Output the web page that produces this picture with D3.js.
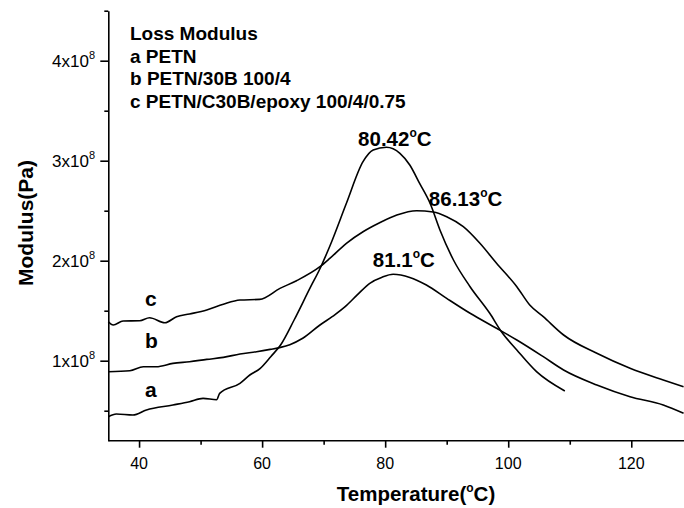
<!DOCTYPE html>
<html>
<head>
<meta charset="utf-8">
<script src="https://cdn.jsdelivr.net/npm/d3@7"></script>
<style>
  body { margin: 0; background: #fff; }
  svg { display: block; font-family: "Liberation Sans", Arial, sans-serif; }
  .axis path, .axis line { stroke: #000; stroke-width: 1.6; }
  .curve { fill: none; stroke: #000; stroke-width: 1.6; }
</style>
</head>
<body>
<div id="chart"></div>
<script>
"use strict";

// Loss modulus vs temperature, values in units of 1x10^8 Pa

// a PETN
let tempA = [35, 36.3, 39, 41.2, 45.5, 48.2, 50.4, 52.6, 53.1, 56.4, 58, 59.7, 61.4, 63, 65.2, 67.9, 69.3, 71.3, 73.7, 76.4, 78.05, 80.2, 82.4, 84, 85.6, 87.3, 88.9, 91.1, 93.8, 97, 98.9, 101.4, 104.6, 109.2];
let modA  = [0.44, 0.467, 0.457, 0.507, 0.557, 0.59, 0.623, 0.61, 0.673, 0.774, 0.857, 0.924, 1.04, 1.157, 1.407, 1.74, 1.907, 2.19, 2.574, 2.99, 3.107, 3.134, 3.074, 2.957, 2.773, 2.574, 2.307, 2.007, 1.74, 1.474, 1.29, 1.107, 0.89, 0.697];

// b PETN/30B 100/4
let tempB = [35, 38.5, 40.7, 42.8, 45.5, 48.2, 51, 53.7, 56.4, 59.1, 61.3, 63, 64.5, 66.6, 69.4, 71.5, 73.5, 75.5, 77.5, 79.5, 81.3, 84, 86.7, 90, 93.8, 98.1, 101.4, 105.7, 109, 114.4, 119.8, 125.2, 128.5];
let modB  = [0.89, 0.90, 0.94, 0.94, 0.973, 0.99, 1.013, 1.033, 1.067, 1.09, 1.113, 1.133, 1.16, 1.224, 1.357, 1.445, 1.54, 1.66, 1.774, 1.835, 1.864, 1.833, 1.757, 1.623, 1.474, 1.324, 1.207, 1.04, 0.907, 0.757, 0.64, 0.557, 0.474];

// c PETN/C30B/epoxy 100/4/0.75
let tempC = [35, 35.8, 37.4, 40.1, 41.7, 44.2, 46.1, 48.2, 51, 53.7, 56.4, 59.6, 62.9, 65.6, 69.4, 71, 73.7, 76.4, 79.1, 81.9, 85.1, 87.8, 90, 92.7, 95.4, 98.1, 101.4, 103.5, 105.7, 109, 114.4, 119.8, 125.2, 128.5];
let modC  = [1.39, 1.357, 1.397, 1.40, 1.43, 1.38, 1.44, 1.467, 1.507, 1.565, 1.607, 1.613, 1.723, 1.8, 1.94, 2.023, 2.174, 2.29, 2.38, 2.457, 2.50, 2.487, 2.44, 2.34, 2.174, 1.974, 1.74, 1.557, 1.44, 1.257, 1.074, 0.924, 0.807, 0.74];

let xMajor = [40, 60, 80, 100, 120];
let xMinor = [50, 70, 90, 110];
let yMajor = [1, 2, 3, 4];
let yMinor = [0.5, 1.5, 2.5, 3.5, 4.5];

let legendLines = ["Loss Modulus", "a PETN", "b PETN/30B 100/4", "c PETN/C30B/epoxy 100/4/0.75"];
let curveNames = ["a", "b", "c"];
let curveLabelVals = [0.64, 1.127, 1.547];   // baselines of the a/b/c tags, in data units
let peakLabels = [
  {text: "80.42", t: 75.6, v: 3.147},
  {text: "86.13", t: 87.1, v: 2.547},
  {text: "81.1",  t: 78.0, v: 1.94}
];

let width = 684, height = 508;

let svg = d3.select("#chart").append("svg")
  .attr("width", width)
  .attr("height", height);

// scales
let x = d3.scaleLinear().domain([35, 130]).range([108.3, 692.8]);
let y = d3.scaleLinear().domain([0.2, 4.5]).range([440.7, 10.7]);

// x axis (major + minor)
svg.append("g")
  .attr("class", "axis")
  .attr("transform", `translate(0,${y(0.2)})`)
  .call(d3.axisBottom(x).tickValues(xMajor).tickSize(7).tickSizeOuter(0).tickFormat(""))
  .call(g => g.select(".domain").attr("d", `M${x(35)},0H${width}`));

svg.append("g")
  .attr("class", "axis")
  .attr("transform", `translate(0,${y(0.2)})`)
  .call(d3.axisBottom(x).tickValues(xMinor).tickSize(4).tickSizeOuter(0).tickFormat(""))
  .call(g => g.select(".domain").remove());

svg.append("g").selectAll("text")
  .data(xMajor)
  .join("text")
  .attr("x", d => x(d))
  .attr("y", 469)
  .attr("text-anchor", "middle")
  .attr("font-size", 16)
  .text(d => d);

// y axis (major + minor)
svg.append("g")
  .attr("class", "axis")
  .attr("transform", `translate(${x(35)},0)`)
  .call(d3.axisLeft(y).tickValues(yMajor).tickSize(8).tickSizeOuter(0).tickFormat(""));

svg.append("g")
  .attr("class", "axis")
  .attr("transform", `translate(${x(35)},0)`)
  .call(d3.axisLeft(y).tickValues(yMinor).tickSize(4).tickSizeOuter(0).tickFormat(""))
  .call(g => g.select(".domain").remove());

let yLab = svg.append("g").selectAll("text")
  .data(yMajor)
  .join("text")
  .attr("x", 95)
  .attr("y", d => y(d) + 6)
  .attr("text-anchor", "end")
  .attr("font-size", 17);
yLab.append("tspan").text(d => d + "x10");
yLab.append("tspan").attr("font-size", 11).attr("dy", -8).text("8");

// axis titles
let xTitle = svg.append("text")
  .attr("x", 416)
  .attr("y", 501)
  .attr("text-anchor", "middle")
  .attr("font-size", 20.5)
  .attr("font-weight", "bold");
xTitle.append("tspan").text("Temperature(");
xTitle.append("tspan").attr("font-size", 12).attr("dy", -9).text("o");
xTitle.append("tspan").attr("dy", 9).text("C)");

svg.append("text")
  .attr("transform", "translate(33,223)rotate(-90)")
  .attr("text-anchor", "middle")
  .attr("font-size", 21)
  .attr("font-weight", "bold")
  .text("Modulus(Pa)");

// curves
let line = d3.line()
  .curve(d3.curveMonotoneX)
  .x(d => x(d[0]))
  .y(d => y(d[1]));

let series = [
  d3.zip(tempA, modA),
  d3.zip(tempB, modB),
  d3.zip(tempC, modC)
];

svg.append("g").selectAll("path")
  .data(series)
  .join("path")
  .attr("class", "curve")
  .attr("d", line);

// a / b / c tags
svg.append("g").selectAll("text")
  .data(curveNames)
  .join("text")
  .attr("x", 145)
  .attr("y", (d, i) => y(curveLabelVals[i]))
  .attr("font-size", 21)
  .attr("font-weight", "bold")
  .text(d => d);

// peak temperature labels
let pk = svg.append("g").selectAll("text")
  .data(peakLabels)
  .join("text")
  .attr("x", d => x(d.t))
  .attr("y", d => y(d.v))
  .attr("font-size", 20.5)
  .attr("font-weight", "bold");
pk.append("tspan").text(d => d.text);
pk.append("tspan").attr("font-size", 12).attr("dy", -9).text("o");
pk.append("tspan").attr("dy", 9).text("C");

// legend block
svg.append("g").selectAll("text")
  .data(legendLines)
  .join("text")
  .attr("x", 130)
  .attr("y", (d, i) => 40 + i * 22.5)
  .attr("font-size", 19)
  .attr("font-weight", "bold")
  .text(d => d);
</script>
</body>
</html>
